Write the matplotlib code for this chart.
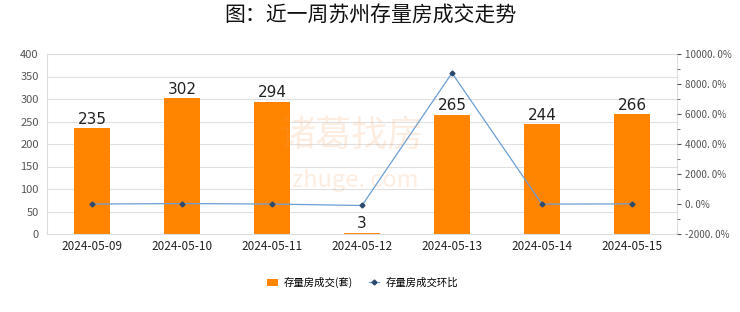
import numpy as np
import matplotlib.pyplot as plt
from matplotlib.ticker import FuncFormatter, MultipleLocator

plt.rcParams['font.family'] = ['Noto Sans CJK SC', 'DejaVu Sans']

# data
dates = ["2024-05-09", "2024-05-10", "2024-05-11", "2024-05-12",
         "2024-05-13", "2024-05-14", "2024-05-15"]
deals = [235, 302, 294, 3, 265, 244, 266]
ratio = [-3.0, 28.5, -2.6, -99.0, 8733.3, -7.9, 9.0]  # percent

fig = plt.figure(figsize=(7.4, 3.12), dpi=100)
ax = fig.add_axes([47/740, 1 - 234/312, 630/740, 180/312])
ax2 = ax.twinx()

x = np.arange(len(dates))
ax.bar(x, deals, width=0.41, color="#ff8400", zorder=2, label="存量房成交(套)")
for xi, v in zip(x, deals):
    ax.text(xi, v + 3, str(v), ha="center", va="bottom", fontsize=11,
            color="#222222", family="DejaVu Sans", zorder=4)

ax.set_ylim(0, 400)
ax.set_xlim(-0.5, len(dates) - 0.5)
ax.yaxis.set_major_locator(MultipleLocator(50))
ax.set_xticks(x)
ax.set_xticklabels(dates, fontsize=8.5, color="#222222")
ax.tick_params(axis="y", labelsize=8, colors="#555555", length=0, pad=6)
ax.tick_params(axis="x", length=0, pad=4)
ax.grid(axis="y", color="#e0e0e0", linewidth=0.8, zorder=0)
ax.set_axisbelow(True)
for s in ax.spines.values():
    s.set_color("#dddddd")
    s.set_linewidth(0.8)

ax2.plot(x, ratio, color="#6a9ed6", linewidth=0.9, marker="D", markersize=2.5,
         markerfacecolor="#2c4a6e", markeredgecolor="#2c4a6e", zorder=3,
         label="存量房成交环比")
ax2.set_ylim(-2000, 10000)
ax2.yaxis.set_major_locator(MultipleLocator(2000))
ax2.yaxis.set_minor_locator(MultipleLocator(1000))
ax2.yaxis.set_major_formatter(FuncFormatter(lambda v, p: f"{v:.0f}. 0%"))
ax2.tick_params(axis="y", which="major", labelsize=7, colors="#555555",
                length=3, pad=3, direction="out")
ax2.tick_params(axis="y", which="minor", length=2, color="#555555")
ax2.tick_params(axis="y", which="both", labelcolor="#555555")
for s in ax2.spines.values():
    s.set_visible(False)

# watermark
fig.text(0.475, 0.565, "诸葛找房", fontsize=26, color="#f5a05a", alpha=0.18,
         ha="center", va="center")
fig.text(0.48, 0.42, "zhuge. com", fontsize=17, color="#f5a05a", alpha=0.18,
         ha="center", va="center")

fig.suptitle("图：近一周苏州存量房成交走势", fontsize=15, y=0.985, color="#111111",
             fontweight="medium")

h1, l1 = ax.get_legend_handles_labels()
h2, l2 = ax2.get_legend_handles_labels()
fig.legend(h1 + h2, l1 + l2, loc="center", bbox_to_anchor=(0.49, 0.095), ncol=2,
           frameon=False, fontsize=7.5, handlelength=1.0, handleheight=0.7,
           columnspacing=1.5, handletextpad=0.6)

fig.savefig("out.png", dpi=100, facecolor="white")
